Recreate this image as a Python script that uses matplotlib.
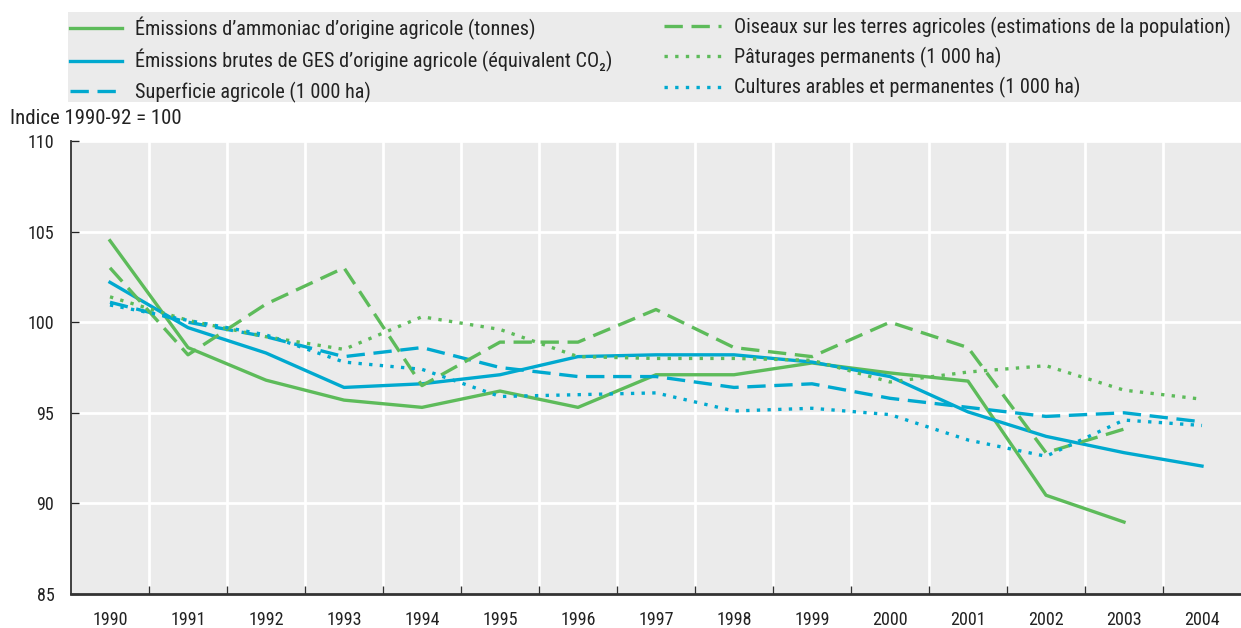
import numpy as np
import matplotlib
matplotlib.use("Agg")
import matplotlib.pyplot as plt
from matplotlib.patches import Rectangle

plt.rcParams['font.family'] = ['Roboto Condensed', 'DejaVu Sans']

# data (index 1990-92 = 100)
years = [str(y) for y in range(1990, 2005)]
ammoniac = [104.5, 98.6, 96.8, 95.7, 95.3, 96.2, 95.3, 97.1, 97.1, 97.75, 97.2, 96.75, 90.45, 88.97, np.nan]
ges = [102.2, 99.7, 98.3, 96.4, 96.6, 97.1, 98.1, 98.2, 98.2, 97.8, 97.0, 95.05, 93.7, 92.8, 92.06]
superficie = [101.1, 100.0, 99.2, 98.1, 98.6, 97.5, 97.0, 97.0, 96.4, 96.6, 95.8, 95.3, 94.8, 95.0, 94.5]
oiseaux = [103.0, 98.2, 101.0, 103.0, 96.5, 98.9, 98.9, 100.7, 98.6, 98.1, 100.0, 98.6, 92.8, 94.1, np.nan]
paturages = [101.4, 100.1, 99.2, 98.5, 100.3, 99.6, 98.1, 98.0, 98.0, 97.9, 96.7, 97.25, 97.6, 96.25, 95.75]
cultures = [100.95, 100.1, 99.3, 97.8, 97.4, 95.9, 96.0, 96.1, 95.1, 95.25, 94.9, 93.5, 92.6, 94.6, 94.3]

green = '#5dbb5a'
blue = '#00a9cf'
bg = '#ebebeb'
txt = '#222222'

fig = plt.figure(figsize=(12.41, 6.28), dpi=100)
ax = fig.add_axes([71/1241, 34/628, 1 - 71/1241, (594-141)/628])
ax.set_facecolor(bg)

x = np.arange(len(years))
lw = 2.4
dash = (0, (5.5, 2.6))
dot = (0, (1, 2.2))
l1, = ax.plot(x, ammoniac, color=green, lw=lw, ls='-', label="Émissions d’ammoniac d’origine agricole (tonnes)")
l2, = ax.plot(x, ges, color=blue, lw=lw, ls='-', label="Émissions brutes de GES d’origine agricole (équivalent CO₂)")
l3, = ax.plot(x, superficie, color=blue, lw=lw, ls=dash, label="Superficie agricole (1 000 ha)")
l4, = ax.plot(x, oiseaux, color=green, lw=lw, ls=dash, label="Oiseaux sur les terres agricoles (estimations de la population)")
l5, = ax.plot(x, paturages, color=green, lw=lw, ls=dot, label="Pâturages permanents (1 000 ha)")
l6, = ax.plot(x, cultures, color=blue, lw=lw, ls=dot, label="Cultures arables et permanentes (1 000 ha)")

ax.set_xlim(-0.5, len(years) - 0.5)
ax.set_ylim(85, 110)
ax.set_yticks([85, 90, 95, 100, 105, 110])
ax.set_xticks(x)
ax.set_xticklabels(years)
ax.set_xticks(np.arange(0.5, len(years) - 1, 1), minor=True)
ax.grid(False)
for v in [90, 95, 100, 105, 110]:
    ax.axhline(v, color='white', lw=2, zorder=0.5)
for v in np.arange(0.5, len(years) - 1, 1):
    ax.axvline(v, color='white', lw=2, zorder=0.5)

ax.tick_params(axis='x', which='major', length=0, labelsize=13, colors=txt, pad=12)
ax.tick_params(axis='x', which='minor', direction='in', length=6, width=1, color='#333333')
ax.tick_params(axis='y', direction='in', length=6, width=1, labelsize=13, colors=txt, pad=12)
for s in ['top', 'right']:
    ax.spines[s].set_visible(False)
ax.spines['left'].set_color('#333333')
ax.spines['left'].set_linewidth(1.3)
ax.spines['bottom'].set_color('#333333')
ax.spines['bottom'].set_linewidth(2)

fig.text(10/1241, 1 - 119/628, "Indice 1990-92 = 100", fontsize=15, color=txt, va='center')

# legend panel
fig.patches.append(Rectangle((68/1241, 1 - 102/628), 1 - 68/1241, 90/628,
                             transform=fig.transFigure, facecolor=bg, edgecolor='none', zorder=0))
opts = dict(loc='upper left', fontsize=14.6, frameon=False, handletextpad=0.65,
            labelspacing=0.45, borderaxespad=0, borderpad=0)
leg1 = fig.legend(handles=[l1, l2, l3], bbox_to_anchor=(70/1241, 1 - 17/628),
                  handlelength=2.55, **opts)
leg2 = fig.legend(handles=[l4, l5, l6], bbox_to_anchor=(664/1241, 1 - 17/628),
                  handlelength=2.8, **opts)
for lg in (leg1, leg2):
    for t in lg.get_texts():
        t.set_color(txt)

fig.savefig('out.png', dpi=100)
